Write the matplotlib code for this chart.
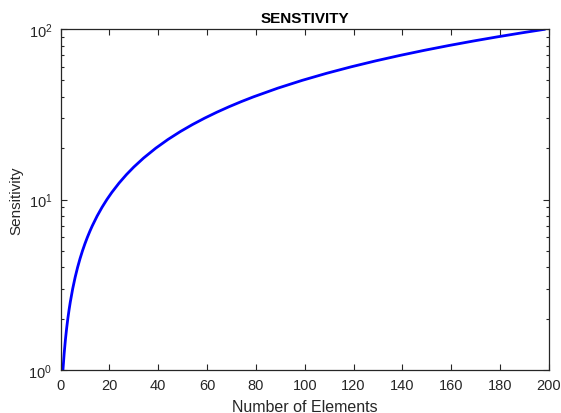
import matplotlib
matplotlib.use('Agg')
import matplotlib.pyplot as plt
from matplotlib.ticker import LogLocator, NullFormatter

plt.rcParams['font.family'] = ['Liberation Sans', 'DejaVu Sans']
plt.rcParams['mathtext.fontset'] = 'custom'
plt.rcParams['mathtext.rm'] = 'Liberation Sans'
plt.rcParams['mathtext.it'] = 'Liberation Sans'

# values
elements = [1, 1.5, 2, 2.5, 3, 3.5, 4, 5, 6, 7, 8, 9, 10, 11, 12, 13, 15, 17,
            19, 21, 24, 27, 30, 34, 39, 44, 49, 54, 59, 64, 69, 74, 79, 89,
            99, 109, 119, 129, 139, 149, 159, 169, 179, 189, 198]
sensitivity = [1, 1.25, 1.5, 1.75, 2, 2.25, 2.5, 3, 3.5, 4, 4.5, 5, 5.5, 6,
               6.5, 7, 8, 9, 10, 11, 12.5, 14, 15.5, 17.5, 20, 22.5, 25, 27.5,
               30, 32.5, 35, 37.5, 40, 45, 50, 55, 60, 65, 70, 75, 80, 85, 90,
               95, 99.5]

fig = plt.figure(figsize=(5.61, 4.14), dpi=100)
ax = fig.add_axes([60.5 / 561, 1 - 371 / 414, 488.5 / 561, 341 / 414])

ax.plot(elements, sensitivity, color=(0, 0, 1), linewidth=2.0)

ax.set_yscale('log')
ax.set_xlim(0, 200)
ax.set_ylim(1, 100)
ax.set_xticks(range(0, 201, 20))
ax.yaxis.set_minor_locator(LogLocator(base=10, subs=range(2, 10)))
ax.yaxis.set_minor_formatter(NullFormatter())

ax.tick_params(which='both', direction='in', top=True, right=True,
               labelsize=10.5, colors='#262626', width=0.8)
ax.tick_params(which='major', length=4)
ax.tick_params(which='minor', length=2.5)
ax.tick_params(axis='x', pad=6)
ax.tick_params(axis='y', pad=6)
for s in ax.spines.values():
    s.set_linewidth(0.9)
    s.set_color('#262626')

ax.set_title('SENSTIVITY', fontsize=11, fontweight='bold', pad=5)
ax.set_xlabel('Number of Elements', fontsize=11.5, color='#262626', labelpad=5)
ax.set_ylabel('Sensitivity', fontsize=11, color='#262626', labelpad=4)

fig.savefig('out.png', dpi=100)
